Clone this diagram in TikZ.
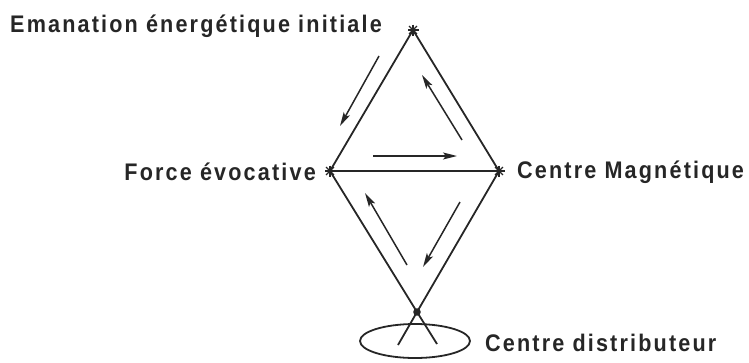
\documentclass[tikz,border=0pt]{standalone}
\usepackage{fontspec}
\setmainfont{Liberation Sans}[FakeStretch=0.9, LetterSpace=9]
\usetikzlibrary{arrows.meta,calc,shapes.geometric}
\tikzset{
  edge/.style={line width=1.8pt, black!85},
  flow/.style={line width=1.5pt, black!85, -{Stealth[length=14pt,width=7pt,inset=3pt]}},
  lbl/.style={font=\bfseries\fontsize{24}{24}\selectfont, inner sep=0pt, text=black!85},
  starmark/.style={line width=1.1pt, black!85}
}
\newcommand{\starat}[1]{%
  \foreach \a in {0,45,90,135} {\draw[starmark] ($(#1)+(\a:5.5pt)$) -- ($(#1)+(\a+180:5.5pt)$);}}
\begin{document}
\begin{tikzpicture}[x=1pt,y=-1pt]
  \useasboundingbox (0,0) rectangle (749,362);
  % vertices
  \coordinate (T) at (413,30);
  \coordinate (L) at (330,171);
  \coordinate (R) at (499,171);
  \coordinate (B) at (417,312);
  \coordinate (Lend) at (437,344);
  \coordinate (Rend) at (398,345);
  % diamond edges
  \draw[edge] (T) -- (L);
  \draw[edge] (T) -- (R);
  \draw[edge] (L) -- (R);
  \draw[edge] (L) -- (B) -- (Lend);
  \draw[edge] (R) -- (B) -- (Rend);
  % ellipse
  \node[draw, line width=1.8pt, black!85, ellipse, minimum width=110pt, minimum height=34pt, inner sep=0pt] (E) at (415,341) {};
  % marks
  \starat{T}
  \starat{L}
  \starat{R}
  \fill[black!85] (B) circle (3.8pt);
  % arrows
  \coordinate (a1s) at (379,56);  \coordinate (a1e) at (340,126);
  \coordinate (a2s) at (462,140); \coordinate (a2e) at (422,75);
  \coordinate (a3s) at (373,156); \coordinate (a3e) at (457,156);
  \coordinate (a4s) at (407,265); \coordinate (a4e) at (365,193);
  \coordinate (a5s) at (460,202); \coordinate (a5e) at (423,267);
  \draw[flow] (a1s) -- (a1e);
  \draw[flow] (a2s) -- (a2e);
  \draw[flow] (a3s) -- (a3e);
  \draw[flow] (a4s) -- (a4e);
  \draw[flow] (a5s) -- (a5e);
  % labels
  \node[lbl, anchor=west] (tl) at (10,26) {Emanation énergétique initiale};
  \node[lbl, anchor=east] (ll) at (316,172) {Force évocative};
  \node[lbl, anchor=west] (rl) at (517,172) {Centre Magnétique};
  \node[lbl, anchor=west] (bl) at (485,343) {Centre distributeur};
\end{tikzpicture}
\end{document}
